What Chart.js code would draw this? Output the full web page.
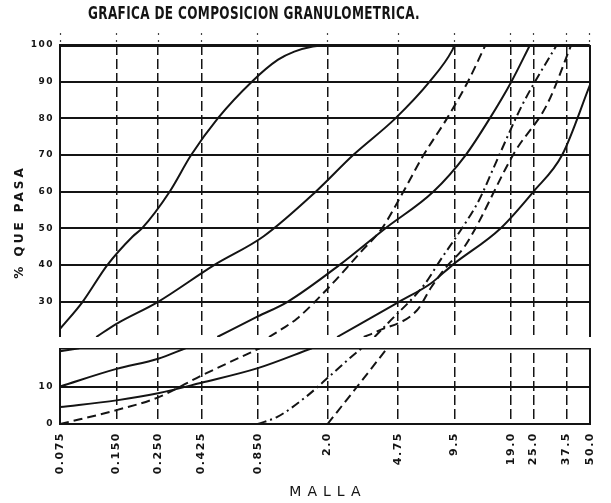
<!DOCTYPE html>
<html>
<head>
<meta charset="utf-8">
<title>Grafica de composicion granulometrica</title>
<script src="https://cdn.jsdelivr.net/npm/chart.js@4/dist/chart.umd.min.js"></script>
<style>
  html, body { margin: 0; padding: 0; background: #fff; }
</style>
</head>
<body>
<canvas id="granChart" width="611" height="503"></canvas>
<script>
// sieve openings (mm) and the labels printed under them
var sieves = [0.075, 0.150, 0.250, 0.425, 0.850, 2.0, 4.75, 9.5, 19.0, 25.0, 37.5, 50.0];
var sieveLabels = ['0.075', '0.150', '0.250', '0.425', '0.850', '2.0', '4.75', '9.5', '19.0', '25.0', '37.5', '50.0'];
var upperTicks = [30, 40, 50, 60, 70, 80, 90, 100];
var lowerTicks = [0, 10, 20];

// gradation curves, [opening mm, % passing], split into the part shown
// in the lower panel (0-20 %) and the part shown in the upper panel
var curve1High = [[0.075, 22.6], [0.099, 30], [0.134, 40], [0.183, 47.8], [0.205, 50], [0.288, 60], [0.375, 70],
                  [0.52, 80], [0.79, 90], [1.09, 96], [1.33, 98.2], [1.67, 99.6], [2.0, 100]];

var curve2Low = [[0.075, 19.4], [0.095, 20.2]];
var curve2High = [[0.117, 20.4], [0.15, 24], [0.25, 30], [0.497, 40], [0.91, 47.8], [1.73, 60], [2.74, 70],
                  [4.6, 80], [7.0, 90], [9.25, 98.6], [9.5, 100]];

var curve3Low = [[0.075, 10], [0.15, 14.7], [0.25, 17.4], [0.35, 20.2]];
var curve3High = [[0.517, 20.4], [0.85, 26], [1.225, 30], [2.31, 40], [4.06, 50], [7.32, 60], [10.9, 70],
                  [14.65, 80], [19.1, 90], [24, 100]];

var curve4Low = [[0.075, 4.5], [0.15, 6.3], [0.25, 8.2], [0.425, 11], [0.85, 14.9], [1.65, 20.2]];
var curve4High = [[2.25, 20.4], [4.81, 30], [7.1, 35], [9.25, 40], [16.7, 50], [25, 60],
                  [35.6, 70], [50, 89]];

var curve5Low = [[0.075, 0], [0.15, 3.7], [0.25, 7.1], [0.425, 12.9], [0.87, 20.2]];
var curve5High = [[0.975, 20.4], [1.144, 22.6], [1.373, 25.4], [2.03, 33.9], [3.0, 43.5], [3.9, 50], [5.07, 60],
                  [6.5, 70], [8.67, 80], [11.2, 90], [13.9, 100]];

var curve6Low = [[0.85, 0], [1.08, 1.9], [1.54, 7.3], [2.1, 13.2], [2.92, 19.5], [3.05, 20.2]];
var curve6High = [[3.56, 20.4], [4.22, 24.3], [6.59, 34.8], [8.02, 41.5], [10.25, 49.5], [12.87, 57.8],
                  [15.5, 67], [21.9, 83.8], [33.3, 100]];

var curve7Low = [[2.0, 0], [2.88, 10], [4.16, 20.2]];
var curve7High = [[3.12, 20.4], [3.7, 22], [6.0, 27.7], [7.13, 33.9], [8.56, 39.4], [10.8, 45.2],
                  [20, 71], [29.6, 83.8], [39.8, 100]];

var INK = '#141414';
var SOLID = [], DASHED = [9, 5], DASHDOT = [9, 4, 2, 4];

var curves = [
    { low: [], high: curve1High, dash: SOLID },
    { low: curve2Low, high: curve2High, dash: SOLID },
    { low: curve3Low, high: curve3High, dash: SOLID },
    { low: curve4Low, high: curve4High, dash: SOLID },
    { low: curve5Low, high: curve5High, dash: DASHED },
    { low: curve6Low, high: curve6High, dash: DASHDOT },
    { low: curve7Low, high: curve7High, dash: DASHED }
];

function toPoints(arr) {
    return arr.map(function (p) { return { x: p[0], y: p[1] }; });
}

function curveLine(points, axis, dash) {
    return {
        data: toPoints(points),
        yAxisID: axis,
        borderColor: INK,
        borderWidth: 2,
        borderDash: dash,
        pointRadius: 0,
        cubicInterpolationMode: 'monotone',
        fill: false
    };
}

var datasets = [];
curves.forEach(function (c) {
    datasets.push(curveLine(c.high, 'yTop', c.dash));
    if (c.low.length) datasets.push(curveLine(c.low, 'yLow', c.dash));
});

function sieveTicks(scale) {
    scale.ticks = sieves.map(function (v) { return { value: v }; });
}

var lastSieve = sieves.length - 1;

// white strip between the two panels, and each line clipped to its own panel
var panels = {
    id: 'panels',
    beforeDraw: function (chart) {
        chart.ctx.letterSpacing = '1.5px';
    },
    beforeDatasetsDraw: function (chart) {
        var ctx = chart.ctx, a = chart.chartArea, gap = chart.scales.yGap;
        ctx.save();
        ctx.fillStyle = '#fff';
        ctx.fillRect(a.left - 4, gap.top, a.right - a.left + 8, gap.bottom - gap.top - 1);
        ctx.restore();
    },
    beforeDatasetDraw: function (chart, args) {
        var ctx = chart.ctx, a = chart.chartArea, ys = args.meta.yScale;
        ctx.save();
        ctx.beginPath();
        ctx.rect(a.left, ys.top, a.right - a.left, ys.bottom - ys.top);
        ctx.clip();
    },
    afterDatasetDraw: function (chart) {
        chart.ctx.restore();
    }
};

// title, vertical caption and the MALLA caption
var captions = {
    id: 'captions',
    afterDraw: function (chart) {
        var ctx = chart.ctx, a = chart.chartArea;
        var title = 'GRAFICA DE COMPOSICION GRANULOMETRICA.';
        ctx.save();
        ctx.fillStyle = INK;
        ctx.textAlign = 'center';
        ctx.textBaseline = 'middle';

        // narrow the title to the width it takes above the grid
        ctx.save();
        ctx.font = 'bold 17px "DejaVu Sans", sans-serif';
        ctx.letterSpacing = '0.5px';
        var w = ctx.measureText(title).width;
        ctx.translate(254, 15);
        ctx.scale(332 / w, 1);
        ctx.fillText(title, 0, 0);
        ctx.restore();

        ctx.font = '14px "DejaVu Sans", sans-serif';
        ctx.letterSpacing = '6px';
        ctx.fillText('MALLA', (a.left + a.right) / 2 + 3, 492);

        ctx.translate(20, 222);
        ctx.rotate(-Math.PI / 2);
        ctx.font = 'bold 12px "DejaVu Sans", sans-serif';
        ctx.letterSpacing = '3px';
        ctx.fillText('% QUE PASA', 0, 0);
        ctx.restore();
    }
};

var tickFont = { family: 'DejaVu Sans', size: 9, weight: 'bold' };

var ctxGran = document.getElementById('granChart').getContext('2d');
var granChart = new Chart(ctxGran, {
    type: 'line',
    data: { datasets: datasets },
    plugins: [panels, captions],
    options: {
        responsive: false,
        animation: false,
        layout: { padding: { top: 45, right: 16, left: 0, bottom: 0 } },
        plugins: {
            legend: { display: false },
            tooltip: { enabled: false }
        },
        scales: {
            x: {
                type: 'logarithmic',
                min: 0.075,
                max: 50,
                afterBuildTicks: sieveTicks,
                afterFit: function (s) { s.height = 79; },
                ticks: {
                    autoSkip: false,
                    minRotation: 90,
                    maxRotation: 90,
                    padding: 8,
                    color: INK,
                    font: { family: 'DejaVu Sans', size: 11, weight: 'bold' },
                    callback: function (v, i) { return sieveLabels[i]; }
                },
                grid: {
                    color: INK,
                    drawTicks: false,
                    lineWidth: function (c) { return (c.index === 0 || c.index === lastSieve) ? 2 : 1.5; }
                },
                border: {
                    color: INK,
                    width: 2,
                    dash: function (c) { return (c.index === 0 || c.index === lastSieve) ? [] : [10, 4]; }
                }
            },
            xTop: {
                type: 'logarithmic',
                position: 'top',
                min: 0.075,
                max: 50,
                afterBuildTicks: sieveTicks,
                afterFit: function (s) { s.height = 0; },
                ticks: { display: false },
                grid: {
                    drawOnChartArea: false,
                    drawTicks: true,
                    tickLength: 12,
                    tickWidth: 1.2,
                    tickColor: '#444',
                    tickBorderDash: [2, 5]
                },
                border: { display: false }
            },
            yLow: {
                type: 'linear',
                position: 'left',
                stack: 'pct',
                stackWeight: 75,
                min: 0,
                max: 20,
                afterBuildTicks: function (s) { s.ticks = lowerTicks.map(function (v) { return { value: v }; }); },
                afterFit: function (s) { s.width = 60; },
                ticks: {
                    padding: 6,
                    color: INK,
                    font: tickFont,
                    callback: function (v) { return v === 20 ? '' : v; }
                },
                grid: {
                    color: INK,
                    drawTicks: false,
                    lineWidth: function (c) { return (c.tick && c.tick.value === 20) ? 1.5 : 2; }
                },
                border: { color: INK, width: 2 }
            },
            yGap: {
                type: 'linear',
                position: 'left',
                stack: 'pct',
                stackWeight: 12,
                afterFit: function (s) { s.width = 60; },
                ticks: { display: false },
                grid: { display: false, drawTicks: false },
                border: { display: false }
            },
            yTop: {
                type: 'linear',
                position: 'left',
                stack: 'pct',
                stackWeight: 292,
                min: 20.4,
                max: 100,
                afterBuildTicks: function (s) { s.ticks = upperTicks.map(function (v) { return { value: v }; }); },
                afterFit: function (s) { s.width = 60; },
                ticks: { padding: 6, color: INK, font: tickFont },
                grid: {
                    color: INK,
                    drawTicks: false,
                    lineWidth: function (c) { return (c.tick && c.tick.value === 100) ? 3 : 2; }
                },
                border: { color: INK, width: 2 }
            }
        }
    }
});
</script>
</body>
</html>
